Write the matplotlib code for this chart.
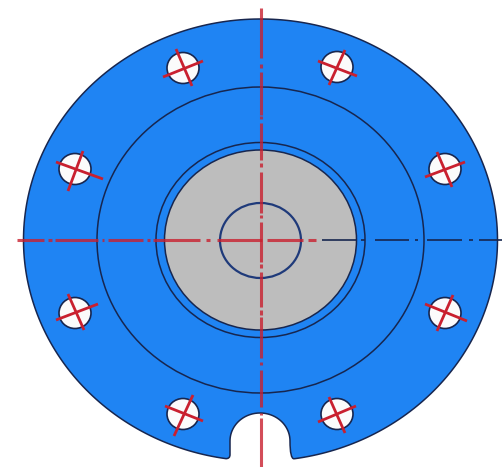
import numpy as np
import matplotlib
matplotlib.use("Agg")
import matplotlib.pyplot as plt
from matplotlib.patches import Ellipse, PathPatch
from matplotlib.path import Path

# drawing is laid out in image pixels
W = 504
H = 467
cx = 260.5
cy = 240

BLUE = "#1f84f3"
GRAY = "#bdbdbd"
DARK = "#17264f"
NAVY = "#1f3a7a"
RED = "#c9202f"

# rx, ry of the rings
outer = (237, 221)
ring_rx = [163.5, 104.5]
ring_ry = [153, 97.5]
gray_r = (96, 90)
inner_r = (40.5, 37.5)

# bolt holes
hole_x = [183, 337, 75, 445, 75, 445, 183, 337]
hole_y = [68, 67, 169, 169, 313, 313, 414, 414]
hole_rx = 16
hole_ry = 15.5

# hole cross lines x1, y1, x2, y2
cross_a = [(163, 77, 203, 61), (318, 61, 357, 76), (56, 162, 103, 179), (425, 177, 465, 162),
           (56, 320, 98, 304), (425, 304, 467, 321), (165, 406, 203, 421), (318, 422, 356, 406)]
cross_b = [(176, 49, 192, 86), (345, 50, 329, 85), (83, 151, 68, 191), (437, 152, 452, 187),
           (68, 294, 84, 330), (453, 295, 437, 331), (193, 395, 174, 436), (329, 397, 345, 433)]

# centre line pieces
v_red = [(8, 58), (64, 68), (72, 115), (116, 119), (123, 160), (163, 167), (172, 213), (215, 218),
         (222, 262), (264, 268), (272, 307), (310, 315), (317, 358), (362, 365), (370, 407),
         (413, 415), (418, 467)]
h_red = [(17, 44), (48, 52), (55, 98), (102, 104), (108, 143), (147, 150), (153, 200), (206, 210),
         (217, 262), (267, 303), (308, 316)]
h_dark = [(322, 357), (361, 365), (375, 409), (415, 418), (427, 462), (469, 473), (479, 502)]

# notch in the bottom edge
notch_l = 230
notch_r = 290
notch_top = 413
notch_arc_y = 441

fig = plt.figure(figsize=(W / 100, H / 100), dpi=100)
ax = fig.add_axes([0, 0, 1, 1])
ax.set_xlim(0, W)
ax.set_ylim(H, 0)
ax.axis("off")

#Outline with notch
t0 = np.arcsin((notch_r + 4 - cx) / outer[0])
t = np.linspace(t0, 2 * np.pi - np.arcsin((cx - notch_l + 4) / outer[0]), 300)
ex = cx + outer[0] * np.sin(t)
ey = cy + outer[1] * np.cos(t)

a = np.linspace(np.pi, 0, 60)
nx = (notch_l + notch_r) / 2 + (notch_r - notch_l) / 2 * np.cos(a)
ny = notch_arc_y - (notch_arc_y - notch_top) * np.sin(a)

verts = [(ex[0], ey[0])] + list(zip(ex[1:], ey[1:]))
codes = [Path.MOVETO] + [Path.LINETO] * (len(ex) - 1)
verts += [(notch_l, ey[-1]), (notch_l, ey[-1] - 4)]
codes += [Path.CURVE3, Path.CURVE3]
verts += list(zip(nx, ny))
codes += [Path.LINETO] * len(nx)
verts += [(notch_r, ey[0]), (ex[0], ey[0])]
codes += [Path.CURVE3, Path.CURVE3]
ax.add_patch(PathPatch(Path(verts, codes), facecolor=BLUE, edgecolor=DARK, lw=1.1, zorder=1))

#Rings
for rx, ry in zip(ring_rx, ring_ry):
    ax.add_patch(Ellipse((cx, cy), 2 * rx, 2 * ry, fill=False, edgecolor=DARK, lw=1.1, zorder=2))
ax.add_patch(Ellipse((cx, cy), 2 * gray_r[0], 2 * gray_r[1], facecolor=GRAY, edgecolor=DARK, lw=1.1, zorder=2))
ax.add_patch(Ellipse((cx, cy + 0.5), 2 * inner_r[0], 2 * inner_r[1], fill=False, edgecolor=NAVY, lw=1.6, zorder=3))

#Holes
for x, y in zip(hole_x, hole_y):
    ax.add_patch(Ellipse((x, y), 2 * hole_rx, 2 * hole_ry, facecolor="#fbfbfb", edgecolor=DARK, lw=1.2, zorder=3))
for x1, y1, x2, y2 in cross_a + cross_b:
    ax.plot([x1, x2], [y1, y2], color=RED, lw=2.0, zorder=4, solid_capstyle="butt")

#Centre lines
for y1, y2 in v_red:
    ax.plot([cx, cx], [y1, y2], color=RED, lw=2.2, alpha=0.8, zorder=5, solid_capstyle="butt")
for x1, x2 in h_red:
    ax.plot([x1, x2], [cy, cy], color=RED, lw=2.2, alpha=0.8, zorder=5, solid_capstyle="butt")
for x1, x2 in h_dark:
    ax.plot([x1, x2], [cy, cy], color=DARK, lw=1.2, zorder=5, solid_capstyle="butt")

fig.savefig("out.png", dpi=100, facecolor="white")
